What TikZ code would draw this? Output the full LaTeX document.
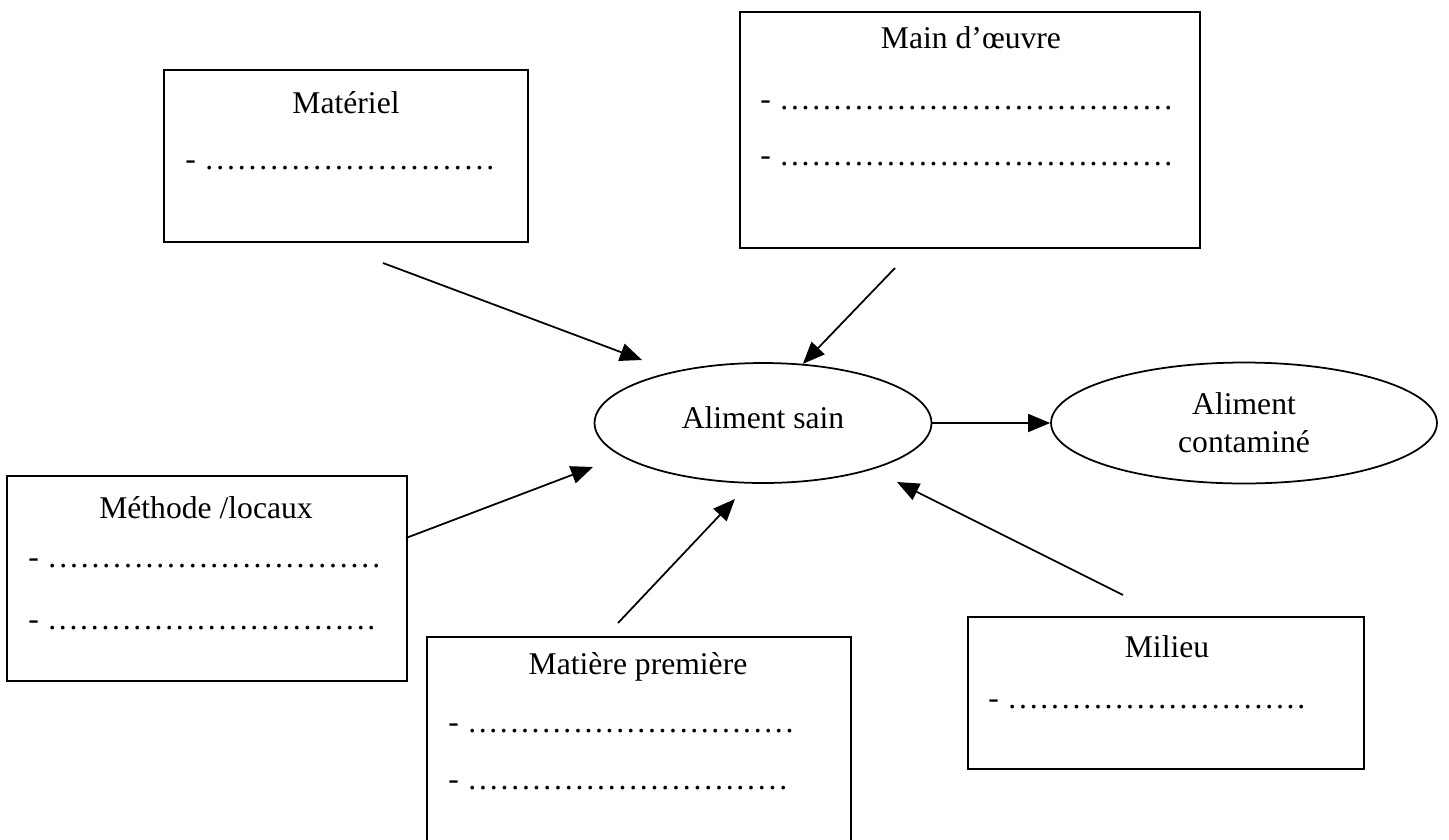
\documentclass[tikz,border=0pt]{standalone}
\usepackage{fontspec}
\setmainfont{Liberation Serif}
\usetikzlibrary{shapes.geometric,arrows.meta}

\newcommand{\pointilles}[1]{-\hspace{0.16cm}\makebox[#1][l]{\xleaders\hbox to 0.21cm{\hss.\hss}\hfill}}

\begin{document}
\begin{tikzpicture}[x=0.02cm, y=-0.02cm,
    every node/.style={font=\fontsize{18}{21.6}\selectfont},
    boite/.style={draw, line width=1pt, inner sep=0pt},
    ligne/.style={anchor=base west, inner sep=0pt},
    bulle/.style={draw, ellipse, line width=1pt, inner sep=0pt, align=center},
    fleche/.style={line width=1pt, -{Triangle[length=0.44cm, width=0.36cm]}}]
    \useasboundingbox (0,0) rectangle (1449,839);

    % les deux ellipses
    \node[bulle, minimum width=6.74cm, minimum height=2.4cm] (sain) at (763,423) {\raisebox{0.22cm}{Aliment sain}};
    \node[bulle, minimum width=7.72cm, minimum height=2.42cm] (cont) at (1244,423) {\raisebox{-0.12cm}{Aliment}\\\raisebox{-0.12cm}{contaminé}};

    % les cadres
    \node[boite, minimum width=7.28cm, minimum height=3.44cm] (mat) at (346,156) {};
    \node (mat-t) at (346,103) {Matériel};
    \node[ligne] (mat-l1) at (185,169) {\pointilles{5.84cm}};

    \node[boite, minimum width=9.2cm, minimum height=4.72cm] (mdo) at (970,130) {};
    \node (mdo-t) at (971,38) {Main d’œuvre};
    \node[ligne] (mdo-l1) at (760,109) {\pointilles{7.9cm}};
    \node[ligne] (mdo-l2) at (760,165) {\pointilles{7.9cm}};

    \node[boite, minimum width=8cm, minimum height=4.1cm] (met) at (207,578.5) {};
    \node (met-t) at (206,508) {Méthode /locaux};
    \node[ligne] (met-l1) at (28,567) {\pointilles{6.7cm}};
    \node[ligne] (met-l2) at (28,629) {\pointilles{6.6cm}};

    \node[boite, minimum width=8.48cm, minimum height=4.16cm] (mp) at (639,741) {};
    \node (mp-t) at (638,667) {Matière première};
    \node[ligne] (mp-l1) at (448,732) {\pointilles{6.56cm}};
    \node[ligne] (mp-l2) at (448,789) {\pointilles{6.44cm}};

    \node[boite, minimum width=7.92cm, minimum height=3.04cm] (mil) at (1166,693) {};
    \node (mil-t) at (1167,647) {Milieu};
    \node[ligne] (mil-l1) at (988,708) {\pointilles{6cm}};

    % departs et pointes des fleches
    \coordinate (mat-d) at (383,263);
    \coordinate (mat-f) at (642,360);
    \coordinate (mdo-d) at (895,268);
    \coordinate (met-d) at (406,538);
    \coordinate (met-f) at (593,467);
    \coordinate (mp-d) at (618,623);
    \coordinate (mp-f) at (735,499);
    \coordinate (mil-d) at (1123,595);
    \coordinate (mil-f) at (897,482);

    \draw[fleche] (mat-d) -- (mat-f);
    \draw[fleche] (mdo-d) -- (sain.56);
    \draw[fleche] (met-d) -- (met-f);
    \draw[fleche] (mp-d) -- (mp-f);
    \draw[fleche] (mil-d) -- (mil-f);
    \draw[fleche] (sain.east) -- (cont.west);
\end{tikzpicture}
\end{document}
